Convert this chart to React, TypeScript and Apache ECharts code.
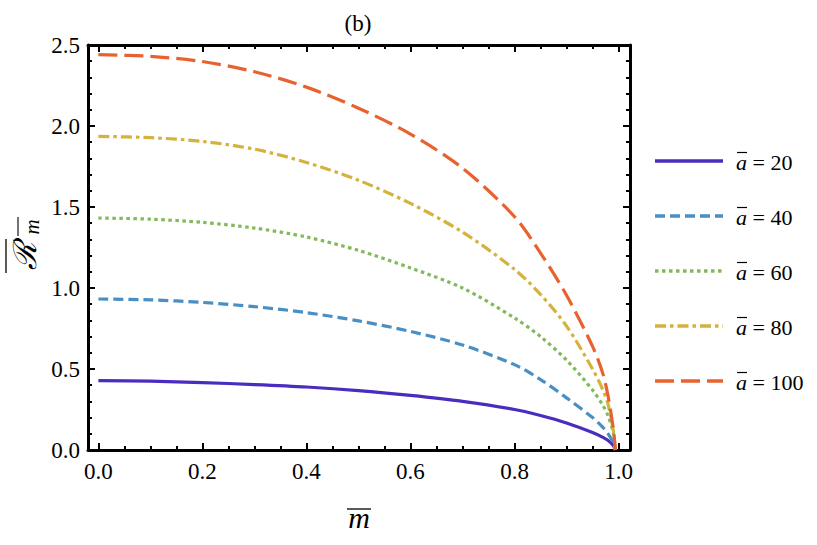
import React, { useEffect, useRef } from "react";
import * as echarts from "echarts";

const mValues = [0, 0.1, 0.2, 0.3, 0.4, 0.5, 0.6, 0.7, 0.8, 0.85, 0.9, 0.95, 0.97, 0.98, 0.99, 0.994];
const a20 = [0.428, 0.425, 0.416, 0.404, 0.389, 0.367, 0.337, 0.3, 0.25, 0.213, 0.167, 0.108, 0.078, 0.058, 0.028, 0];
const a40 = [0.932, 0.927, 0.911, 0.885, 0.848, 0.797, 0.732, 0.648, 0.527, 0.435, 0.322, 0.2, 0.14, 0.1, 0.045, 0];
const a60 = [1.432, 1.425, 1.405, 1.37, 1.315, 1.232, 1.124, 1.0, 0.815, 0.7, 0.555, 0.37, 0.275, 0.21, 0.105, 0];
const a80 = [1.936, 1.928, 1.905, 1.857, 1.775, 1.665, 1.522, 1.345, 1.115, 0.96, 0.765, 0.5, 0.37, 0.28, 0.12, 0];
const a100 = [2.44, 2.43, 2.398, 2.335, 2.24, 2.11, 1.95, 1.74, 1.44, 1.215, 0.955, 0.64, 0.47, 0.33, 0.13, 0];

const seriesNames = ["20", "40", "60", "80", "100"];
const seriesData = [a20, a40, a60, a80, a100];
const colors = ["#4a2cbf", "#4a8fc4", "#82b95b", "#d3b33b", "#e8622f"];
const dashes: (number[] | "solid")[] = ["solid", [10, 5], [3.5, 3.5], [11, 4, 3.5, 4], [19, 7]];

const xMajor = [0, 0.2, 0.4, 0.6, 0.8, 1.0];
const xMinor = [0.05, 0.1, 0.15, 0.25, 0.3, 0.35, 0.45, 0.5, 0.55, 0.65, 0.7, 0.75, 0.85, 0.9, 0.95];
const yMajor = [0, 0.5, 1.0, 1.5, 2.0, 2.5];
const yMinor = [0.1, 0.2, 0.3, 0.4, 0.6, 0.7, 0.8, 0.9, 1.1, 1.2, 1.3, 1.4, 1.6, 1.7, 1.8, 1.9, 2.1, 2.2, 2.3, 2.4];

const FONT = "'Liberation Serif', 'DejaVu Serif', serif";

export default function App() {
  const ref = useRef<HTMLDivElement>(null);
  useEffect(() => {
    if (!ref.current) return;
    const chart = echarts.init(ref.current, null, { renderer: "svg" });
    const XMIN = -0.02, XMAX = 1.022, YMIN = 0, YMAX = 2.5;
    const axisLineStyle = { color: "#000", width: 3 };
    const mkX = (pos: string, major: boolean, labels: boolean) => ({
      type: "value",
      position: pos,
      min: XMIN,
      max: XMAX,
      axisLine: { show: major, onZero: false, lineStyle: axisLineStyle },
      axisTick: {
        show: true,
        inside: true,
        length: major ? 7 : 4,
        lineStyle: { color: "#000", width: 2 },
        customValues: major ? xMajor : xMinor,
      },
      axisLabel: labels
        ? {
            show: true,
            customValues: xMajor,
            formatter: (v: number) => v.toFixed(1),
            fontSize: 23,
            fontFamily: FONT,
            color: "#000",
            margin: 10,
          }
        : { show: false },
      splitLine: { show: false },
    });
    const mkY = (pos: string, major: boolean, labels: boolean) => ({
      type: "value",
      position: pos,
      min: YMIN,
      max: YMAX,
      axisLine: { show: major, onZero: false, lineStyle: axisLineStyle },
      axisTick: {
        show: true,
        inside: true,
        length: major ? 7 : 4,
        lineStyle: { color: "#000", width: 2 },
        customValues: major ? yMajor : yMinor,
      },
      axisLabel: labels
        ? {
            show: true,
            customValues: yMajor,
            formatter: (v: number) => v.toFixed(1),
            fontSize: 23,
            fontFamily: FONT,
            color: "#000",
            margin: 8,
          }
        : { show: false },
      splitLine: { show: false },
    });

    const legendY = [161, 216, 271, 326, 381];
    const graphics: any[] = [];
    seriesNames.forEach((n, i) => {
      const y = legendY[i];
      graphics.push({
        type: "line",
        shape: { x1: 655, y1: y, x2: 723, y2: y },
        style: {
          stroke: colors[i],
          lineWidth: 3.5,
          lineDash: dashes[i] === "solid" ? null : dashes[i],
        },
      });
      graphics.push({
        type: "text",
        x: 736,
        y: y + 1,
        style: {
          text: "{i|a} = " + n,
          font: `22px ${FONT}`,
          fill: "#000",
          verticalAlign: "middle",
          rich: { i: { fontStyle: "italic", fontSize: 22, fontFamily: FONT } },
        },
      });
      graphics.push({
        type: "line",
        shape: { x1: 737, y1: y - 8.5, x2: 747, y2: y - 8.5 },
        style: { stroke: "#000", lineWidth: 1.2 },
      });
    });
    graphics.push({
      type: "text",
      x: 358,
      y: 23,
      style: { text: "(b)", font: `23px ${FONT}`, fill: "#000", align: "center", verticalAlign: "middle" },
    });
    graphics.push({
      type: "text",
      x: 359,
      y: 517,
      style: { text: "m", font: `italic 30px ${FONT}`, fill: "#000", align: "center", verticalAlign: "middle" },
    });
    graphics.push({
      type: "line",
      shape: { x1: 347, y1: 509, x2: 371, y2: 509 },
      style: { stroke: "#000", lineWidth: 1.3 },
    });
    graphics.push({
      type: "group",
      x: 25,
      y: 246,
      rotation: Math.PI / 2,
      children: [
        {
          type: "text",
          x: -10,
          y: 0,
          style: { text: "\u211B", font: `italic 32px ${FONT}`, fill: "#000", align: "center", verticalAlign: "middle" },
        },
        {
          type: "text",
          x: 19,
          y: 7,
          style: { text: "m", font: `italic 21px ${FONT}`, fill: "#000", align: "center", verticalAlign: "middle" },
        },
        { type: "line", shape: { x1: -27, y1: -19, x2: 7, y2: -19 }, style: { stroke: "#000", lineWidth: 1.3 } },
        { type: "line", shape: { x1: 10, y1: -7, x2: 29, y2: -7 }, style: { stroke: "#000", lineWidth: 1.1 } },
      ],
    });

    chart.setOption({
      animation: false,
      backgroundColor: "#fff",
      grid: { left: 88, top: 45, width: 542, height: 405, containLabel: false },
      xAxis: [mkX("bottom", true, true), mkX("bottom", false, false), mkX("top", true, false), mkX("top", false, false)],
      yAxis: [mkY("left", true, true), mkY("left", false, false), mkY("right", true, false), mkY("right", false, false)],
      series: seriesNames.map((n, i) => ({
        name: "a = " + n,
        type: "line",
        xAxisIndex: 0,
        yAxisIndex: 0,
        data: mValues.map((m, j) => [m, seriesData[i][j]]),
        showSymbol: false,
        smooth: 0.3,
        lineStyle: { color: colors[i], width: 3.2, type: dashes[i], cap: "butt" },
        z: 2 + i,
      })),
      graphic: graphics,
    });
    return () => chart.dispose();
  }, []);
  return <div ref={ref} style={{ position: "absolute", left: 0, top: 0, width: 817, height: 545 }} />;
}
